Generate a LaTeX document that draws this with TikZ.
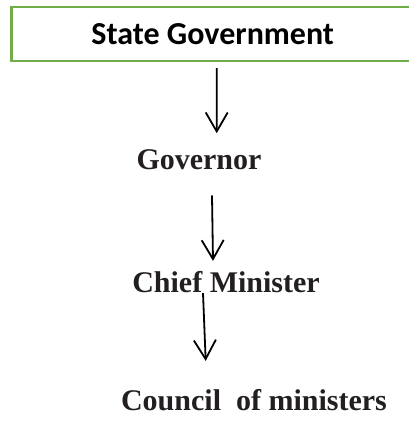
\documentclass[tikz,border=0pt]{standalone}
\usepackage{fontspec}
\usepackage{xcolor}
\usepackage{tikz}
\usetikzlibrary{arrows.meta}
\newfontfamily\boxfont[Scale=1.0]{Carlito}
\newfontfamily\postfont{Liberation Serif}
\definecolor{boxgreen}{RGB}{112,173,71}
\definecolor{inkgrey}{RGB}{35,31,32}

\begin{document}
\begin{tikzpicture}[x=1pt,y=1pt,>={Straight Barb[length=19pt,width=22pt]}]
\useasboundingbox (0,0) rectangle (409,421);
\clip (0,0) rectangle (409,421);

\tikzset{post/.style={inner sep=0pt,anchor=base,text=inkgrey,font=\postfont\bfseries\fontsize{30}{30}\selectfont},
flow/.style={->,line width=1.8pt}}

\node[draw=boxgreen,line width=2.5pt,minimum width=402.5pt,minimum height=54pt,inner sep=0pt,
font=\boxfont\bfseries\fontsize{32}{32}\selectfont] (sg) at (212.75,387) {State Government};

\node[post] (gov) at (199,251) {Governor};
\node[post] (chief) at (226,128.3) {Chief Minister};
\node[post] (council) at (254,10) {Council\ \ of ministers};

\draw[flow] ([xshift=4pt,yshift=-6pt]sg.south) -- ([xshift=17.7pt,yshift=16.7pt]gov.north);
\draw[flow] ([xshift=13pt,yshift=-25pt]gov.south) -- ([xshift=-13pt,yshift=10.5pt]chief.north);
\draw[flow] ([xshift=-23pt]chief.south) -- ([xshift=-48.3pt,yshift=28.8pt]council.north);
\end{tikzpicture}
\end{document}
